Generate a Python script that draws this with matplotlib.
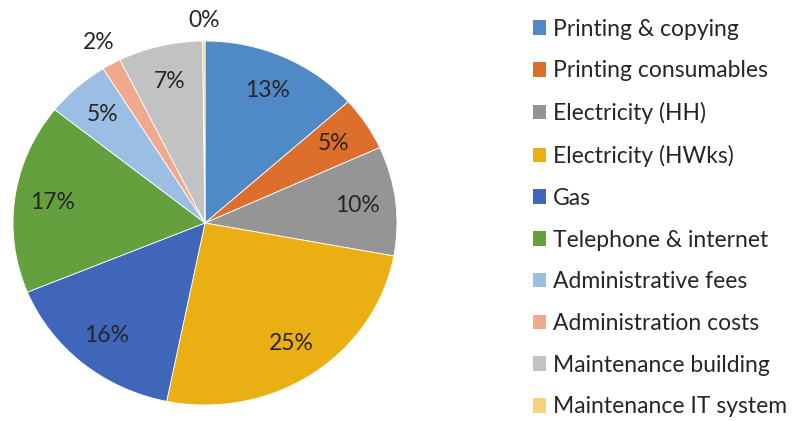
import matplotlib.pyplot as plt
from matplotlib.patches import Patch

plt.rcParams['font.family'] = ['Lato', 'DejaVu Sans']

categories = ['Printing & copying', 'Printing consumables', 'Electricity (HH)',
              'Electricity (HWks)', 'Gas', 'Telephone & internet',
              'Administrative fees', 'Administration costs',
              'Maintenance building', 'Maintenance IT system']
values = [13.4, 4.8, 9.7, 25.3, 15.6, 16.9, 5.4, 1.6, 7.1, 0.2]
colors = ['#4f8ac6', '#de6e2b', '#959595', '#eaaf13', '#3f66b8',
          '#65a03e', '#9cbde4', '#f1a88c', '#c2c2c2', '#f8d27a']

fig = plt.figure(figsize=(8.03, 4.21), dpi=100)
# pie is slightly stretched horizontally in the original
rx, ry = 192, 182
cx, cy = 205, 223
ax = fig.add_axes([(cx - rx) / 803, (421 - cy - ry) / 421, 2 * rx / 803, 2 * ry / 421])

wedges, texts, autotexts = ax.pie(values, colors=colors, startangle=90, counterclock=False,
                                  autopct='%1.0f%%', pctdistance=0.8,
                                  wedgeprops=dict(edgecolor='white', linewidth=0.6),
                                  textprops=dict(fontsize=16.5, color='#262626'))
# tiny slices get their labels pushed outside
for i, f in ((7, 1.42), (9, 1.39)):
    x, y = autotexts[i].get_position()
    autotexts[i].set_position((x * f, y * f))
ax.set_xlim(-1, 1)
ax.set_ylim(-1, 1)
ax.set_aspect('auto')

handles = [Patch(facecolor=c, edgecolor='none') for c in colors]
fig.legend(handles, categories, loc='upper left', bbox_to_anchor=(512 / 803, 1 + 2 / 421),
           frameon=False, fontsize=16.5, labelspacing=0.905, handlelength=0.6,
           handleheight=0.6, handletextpad=0.3, labelcolor='#262626')

fig.savefig('out.png', dpi=100)
